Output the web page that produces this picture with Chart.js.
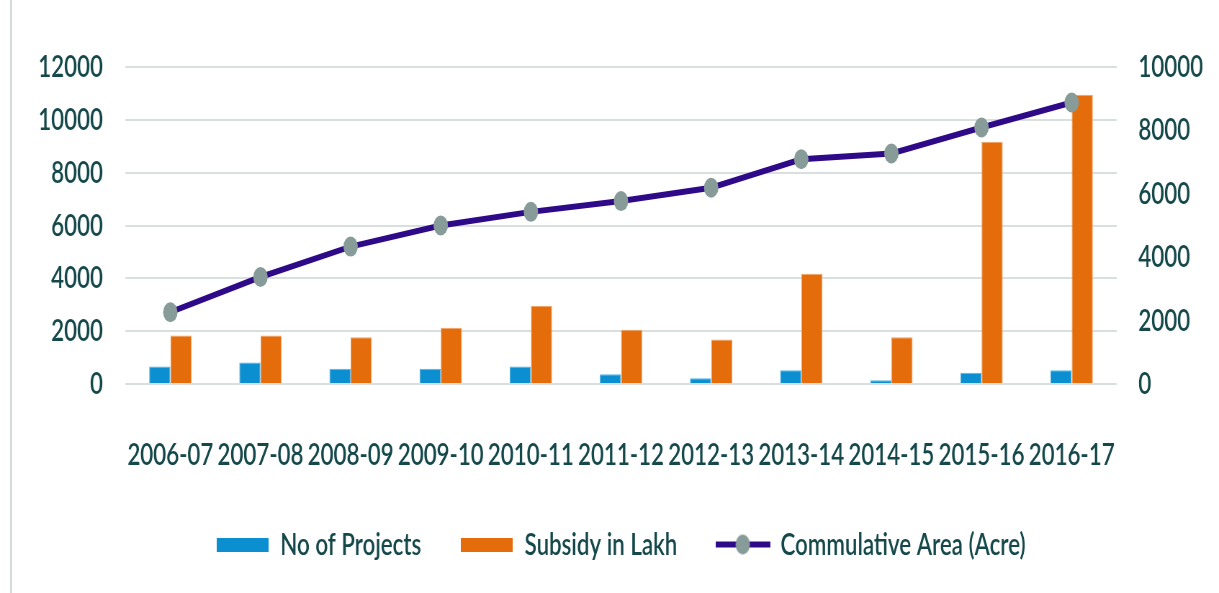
<!DOCTYPE html>
<html>
<head>
<meta charset="utf-8">
<script src="https://cdn.jsdelivr.net/npm/chart.js@4/dist/chart.umd.min.js"></script>
<style>
  html, body { margin: 0; padding: 0; background: #fff; overflow: hidden; }
  body { width: 1219px; height: 593px; position: relative; }
  #edge { position: absolute; left: 10px; top: 0; width: 2px; height: 593px; background: #d5dcdc; }
  /* the source picture is squeezed sideways, so draw wide and squeeze */
  #wrap { position: absolute; left: 0; top: 0; width: 1693px; height: 593px;
          transform: scaleX(0.72); transform-origin: 0 0; }
</style>
</head>
<body>
<div id="edge"></div>
<div id="wrap"><canvas id="c"></canvas></div>
<script>
const YEARS = ['2006-07','2007-08','2008-09','2009-10','2010-11','2011-12','2012-13','2013-14','2014-15','2015-16','2016-17'];
const PROJECTS = [660, 810, 580, 580, 660, 370, 215, 520, 140, 430, 520];
const SUBSIDY = [1835, 1835, 1770, 2125, 2950, 2050, 1685, 4175, 1770, 9175, 10950];
const AREA = [2265, 3375, 4335, 5000, 5430, 5770, 6190, 7090, 7270, 8090, 8880];
const LEFT_TICKS = [0, 2000, 4000, 6000, 8000, 10000, 12000];
const RIGHT_TICKS = [0, 2000, 4000, 6000, 8000, 10000];

const BLUE = '#0b8fd0';
const ORANGE = '#e46c0a';
const LINE = '#2f0a88';
const MARKER = '#879b99';
const TEXT = '#15484a';

function boxIcon(color) {
  const c = document.createElement('canvas');
  c.width = 72; c.height = 14;
  const g = c.getContext('2d');
  g.fillStyle = color;
  g.fillRect(0, 0, 72, 14);
  return c;
}

function lineIcon() {
  const c = document.createElement('canvas');
  c.width = 76; c.height = 24;
  const g = c.getContext('2d');
  g.strokeStyle = LINE; g.lineWidth = 6;
  g.beginPath(); g.moveTo(0, 12); g.lineTo(76, 12); g.stroke();
  g.fillStyle = MARKER;
  g.beginPath(); g.arc(38, 12, 10, 0, Math.PI * 2); g.fill();
  return c;
}

const ICONS = [boxIcon(BLUE), boxIcon(ORANGE), lineIcon()];
const NAMES = ['No of Projects', 'Subsidy in Lakh', 'Commulative Area (Acre)'];

Chart.defaults.font.family = "Lato, 'Open Sans', sans-serif";
Chart.defaults.font.size = 31;
Chart.defaults.font.weight = '600';
Chart.defaults.color = TEXT;

new Chart(document.getElementById('c'), {
  type: 'bar',
  data: {
    labels: YEARS,
    datasets: [
      {
        type: 'line',
        label: NAMES[2],
        data: AREA,
        yAxisID: 'y2',
        borderColor: LINE,
        borderWidth: 6,
        pointRadius: 10,
        pointBackgroundColor: MARKER,
        pointBorderWidth: 0,
        tension: 0,
        order: 0,
      },
      {
        label: NAMES[0],
        data: PROJECTS,
        yAxisID: 'y',
        backgroundColor: BLUE,
        borderColor: '#5ab4e2',
        borderWidth: 1,
        categoryPercentage: 0.47,
        barPercentage: 1.0,
        order: 1,
      },
      {
        label: NAMES[1],
        data: SUBSIDY,
        yAxisID: 'y',
        backgroundColor: ORANGE,
        borderColor: '#f2a466',
        borderWidth: 1,
        categoryPercentage: 0.47,
        barPercentage: 1.0,
        order: 1,
      }
    ]
  },
  options: {
    responsive: true,
    maintainAspectRatio: false,
    animation: false,
    layout: { padding: { left: 54, right: 23, top: 67, bottom: 23 } },
    plugins: {
      tooltip: { enabled: false },
      legend: {
        position: 'bottom',
        labels: {
          usePointStyle: true,
          pointStyleWidth: 74,
          padding: 54,
          font: { size: 31 },
          generateLabels: () => [1, 2, 0].map((ds, i) => ({
            text: NAMES[i],
            fillStyle: 'transparent',
            strokeStyle: 'transparent',
            lineWidth: 0,
            pointStyle: ICONS[i],
            hidden: false,
            datasetIndex: ds,
            fontColor: TEXT,
          }))
        }
      }
    },
    scales: {
      x: {
        grid: { display: false, drawTicks: false },
        border: { display: false },
        ticks: { padding: 52, maxRotation: 0, autoSkip: false },
        afterFit: s => { s.height = 91; }
      },
      y: {
        position: 'left',
        min: 0, max: 12000,
        afterBuildTicks: s => { s.ticks = LEFT_TICKS.map(v => ({ value: v })); },
        grid: { color: '#d9dfdf', lineWidth: 2, drawTicks: false },
        border: { display: false },
        ticks: { padding: 31, callback: v => String(v) },
        afterFit: s => { s.width = 120; }
      },
      y2: {
        position: 'right',
        min: 0, max: 10000,
        afterBuildTicks: s => { s.ticks = RIGHT_TICKS.map(v => ({ value: v })); },
        grid: { display: false, drawTicks: false },
        border: { display: false },
        ticks: { padding: 30, callback: v => String(v) },
        afterFit: s => { s.width = 119; }
      }
    }
  }
});
</script>
</body>
</html>
